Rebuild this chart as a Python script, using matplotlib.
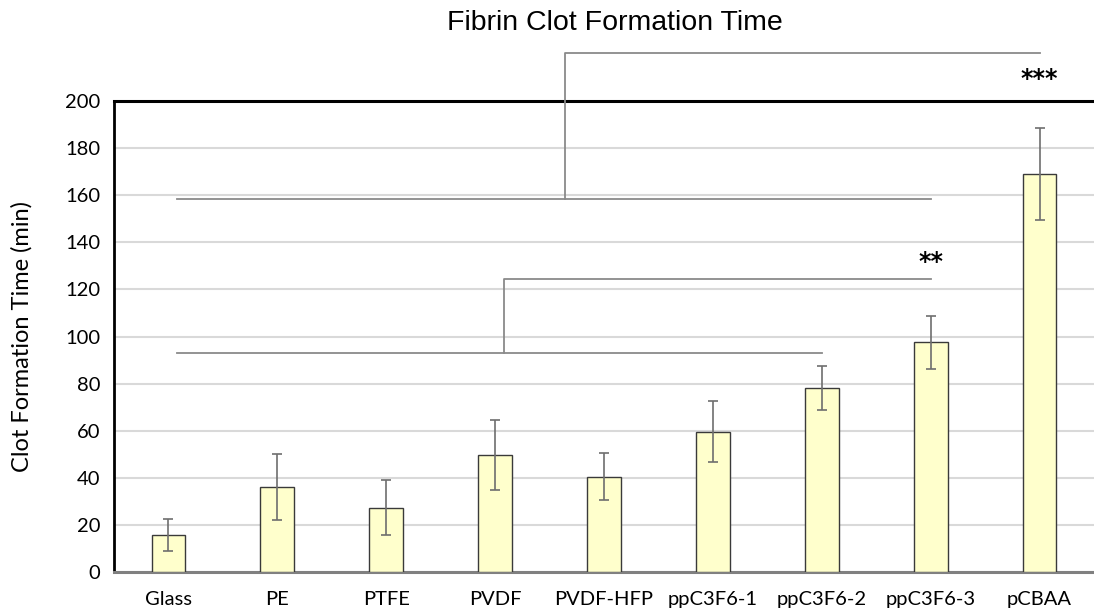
import matplotlib.pyplot as plt
import numpy as np

# clot formation time per surface (min), mean and standard deviation
surfaces = ["Glass", "PE", "PTFE", "PVDF", "PVDF-HFP",
            "ppC3F6-1", "ppC3F6-2", "ppC3F6-3", "pCBAA"]
clot_time = [15.7, 36.0, 27.3, 49.7, 40.5, 59.6, 78.0, 97.5, 169.1]
clot_sd = [6.9, 14.0, 11.7, 15.0, 10.0, 13.0, 9.4, 11.1, 19.5]

# significance brackets:
# (x_from, x_to, y_low, x_join, y_high, x_end, label, label_y)
brackets = [
    (0.08, 6.0, 92.8, 3.08, 124.6, 7.0, "**", 131.5),
    (0.08, 7.0, 158.3, 3.64, 220.5, 8.0, "***", 209.5),
]

plt.rcParams['font.family'] = ['Lato', 'DejaVu Sans']

fig = plt.figure(figsize=(10.94, 6.15), dpi=100)
ax = fig.add_axes([114/1094, 1 - 572/615, 980/1094, 471/615])

x = np.arange(len(surfaces))
ax.bar(x, clot_time, width=0.31, color="#FFFFCC", edgecolor="#3a3a3a",
       linewidth=1.0, zorder=3)
ax.errorbar(x, clot_time, yerr=clot_sd, fmt="none", ecolor="#6e6e6e",
            elinewidth=1.2, capsize=3.5, capthick=1.2, zorder=4)

ax.set_xlim(-0.5, len(surfaces) - 0.5)
ax.set_ylim(0, 200)
ax.set_yticks(range(0, 201, 20))
ax.set_xticks(x)
ax.set_xticklabels(surfaces)
ax.tick_params(axis="both", length=0, labelsize=14.5)
ax.tick_params(axis="x", pad=14)
ax.tick_params(axis="y", pad=10)
ax.grid(axis="y", color="#d9d9d9", linewidth=1.5, zorder=0)
ax.set_axisbelow(True)

ax.spines["right"].set_visible(False)
ax.spines["top"].set_linewidth(2.2)
ax.spines["top"].set_color("black")
ax.spines["left"].set_linewidth(2.0)
ax.spines["left"].set_color("black")
ax.spines["bottom"].set_linewidth(2.2)
ax.spines["bottom"].set_color("#808080")

ax.set_ylabel("Clot Formation Time (min)", fontsize=17)
ax.yaxis.set_label_coords(-0.083, 0.5)

# significance brackets
for x0, x1, ylow, xj, yhigh, xe, lab, ylab in brackets:
    kw = dict(color="#8a8a8a", linewidth=1.3, clip_on=False, zorder=5)
    ax.plot([x0, x1], [ylow, ylow], **kw)
    ax.plot([xj, xj, xe], [ylow, yhigh, yhigh], **kw)
    ax.text(xe, ylab, lab, ha="center", va="center", fontsize=17,
            fontweight="bold", family="DejaVu Sans", clip_on=False)

fig.text(615/1094, 1 - 23/615, "Fibrin Clot Formation Time", ha="center",
         va="center", fontsize=20.5, family="Liberation Sans")

fig.savefig("out.png", dpi=100)
